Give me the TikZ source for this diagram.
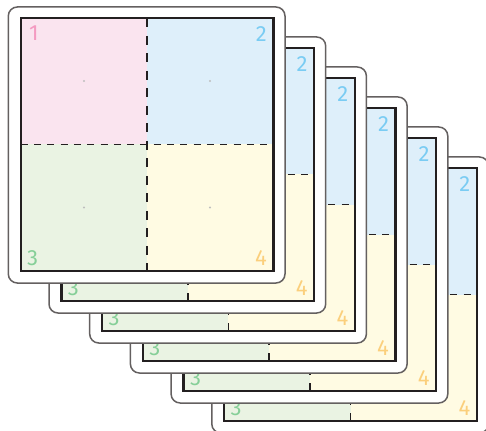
\documentclass[tikz,border=0pt]{standalone}
\usepackage{fontspec}
\setmainfont{Fira Sans}
\definecolor{cpink}{RGB}{250,228,239}
\definecolor{cblue}{RGB}{222,239,250}
\definecolor{cgreen}{RGB}{234,243,227}
\definecolor{cyellow}{RGB}{255,251,227}
\definecolor{npink}{RGB}{244,154,193}
\definecolor{nblue}{RGB}{122,204,243}
\definecolor{ngreen}{RGB}{134,207,152}
\definecolor{norange}{RGB}{251,207,124}
\definecolor{ink}{RGB}{35,31,32}
\definecolor{cardgray}{RGB}{100,96,96}
\definecolor{dotgray}{RGB}{190,190,190}
\begin{document}
\begin{tikzpicture}[x=1pt,y=-1pt,
  card/.style={draw=cardgray,line width=1.5pt,fill=white,rounded corners=9pt},
  frame/.style={draw=ink,line width=2.4pt},
  hfold/.style={draw=ink,line width=1.8pt,dash pattern=on 7pt off 6.3pt},
  vfold/.style={draw=ink,line width=1.8pt,dash pattern=on 9pt off 8.5pt},
  num/.style={inner sep=0pt,font=\fontsize{22}{22}\selectfont}]
\useasboundingbox (0,0) rectangle (486,430);
\clip (0,0) rectangle (486,430);
% cards from back to front
\foreach \k in {5,4,...,0}{
\begin{scope}[shift={(\k*40.7,\k*30)}]
\draw[card] (8.3,7) rectangle (285,283);
\fill[cpink] (20.7,18.3) rectangle (147,144.5);
\fill[cblue] (147,18.3) rectangle (273.3,144.5);
\fill[cgreen] (20.7,144.5) rectangle (147,270.7);
\fill[cyellow] (147,144.5) rectangle (273.3,270.7);
\foreach \p in {(84,81),(210,81),(84,207.5),(210,207.5)}
  \fill[dotgray] \p circle (1.1pt);
\draw[vfold] (147,18.3) -- (147,270.7);
\draw[hfold] (20.7,144.5) -- (273.3,144.5);
\draw[frame] (20.7,18.3) rectangle (273.3,270.7);
\node[num,text=npink,anchor=north west] (one-\k) at (29,26) {1};
\node[num,text=nblue,anchor=north east] (two-\k) at (267,26) {2};
\node[num,text=ngreen,anchor=south west] (three-\k) at (27,266) {3};
\node[num,text=norange,anchor=south east] (four-\k) at (267,266) {4};
\end{scope}
}
\end{tikzpicture}
\end{document}
